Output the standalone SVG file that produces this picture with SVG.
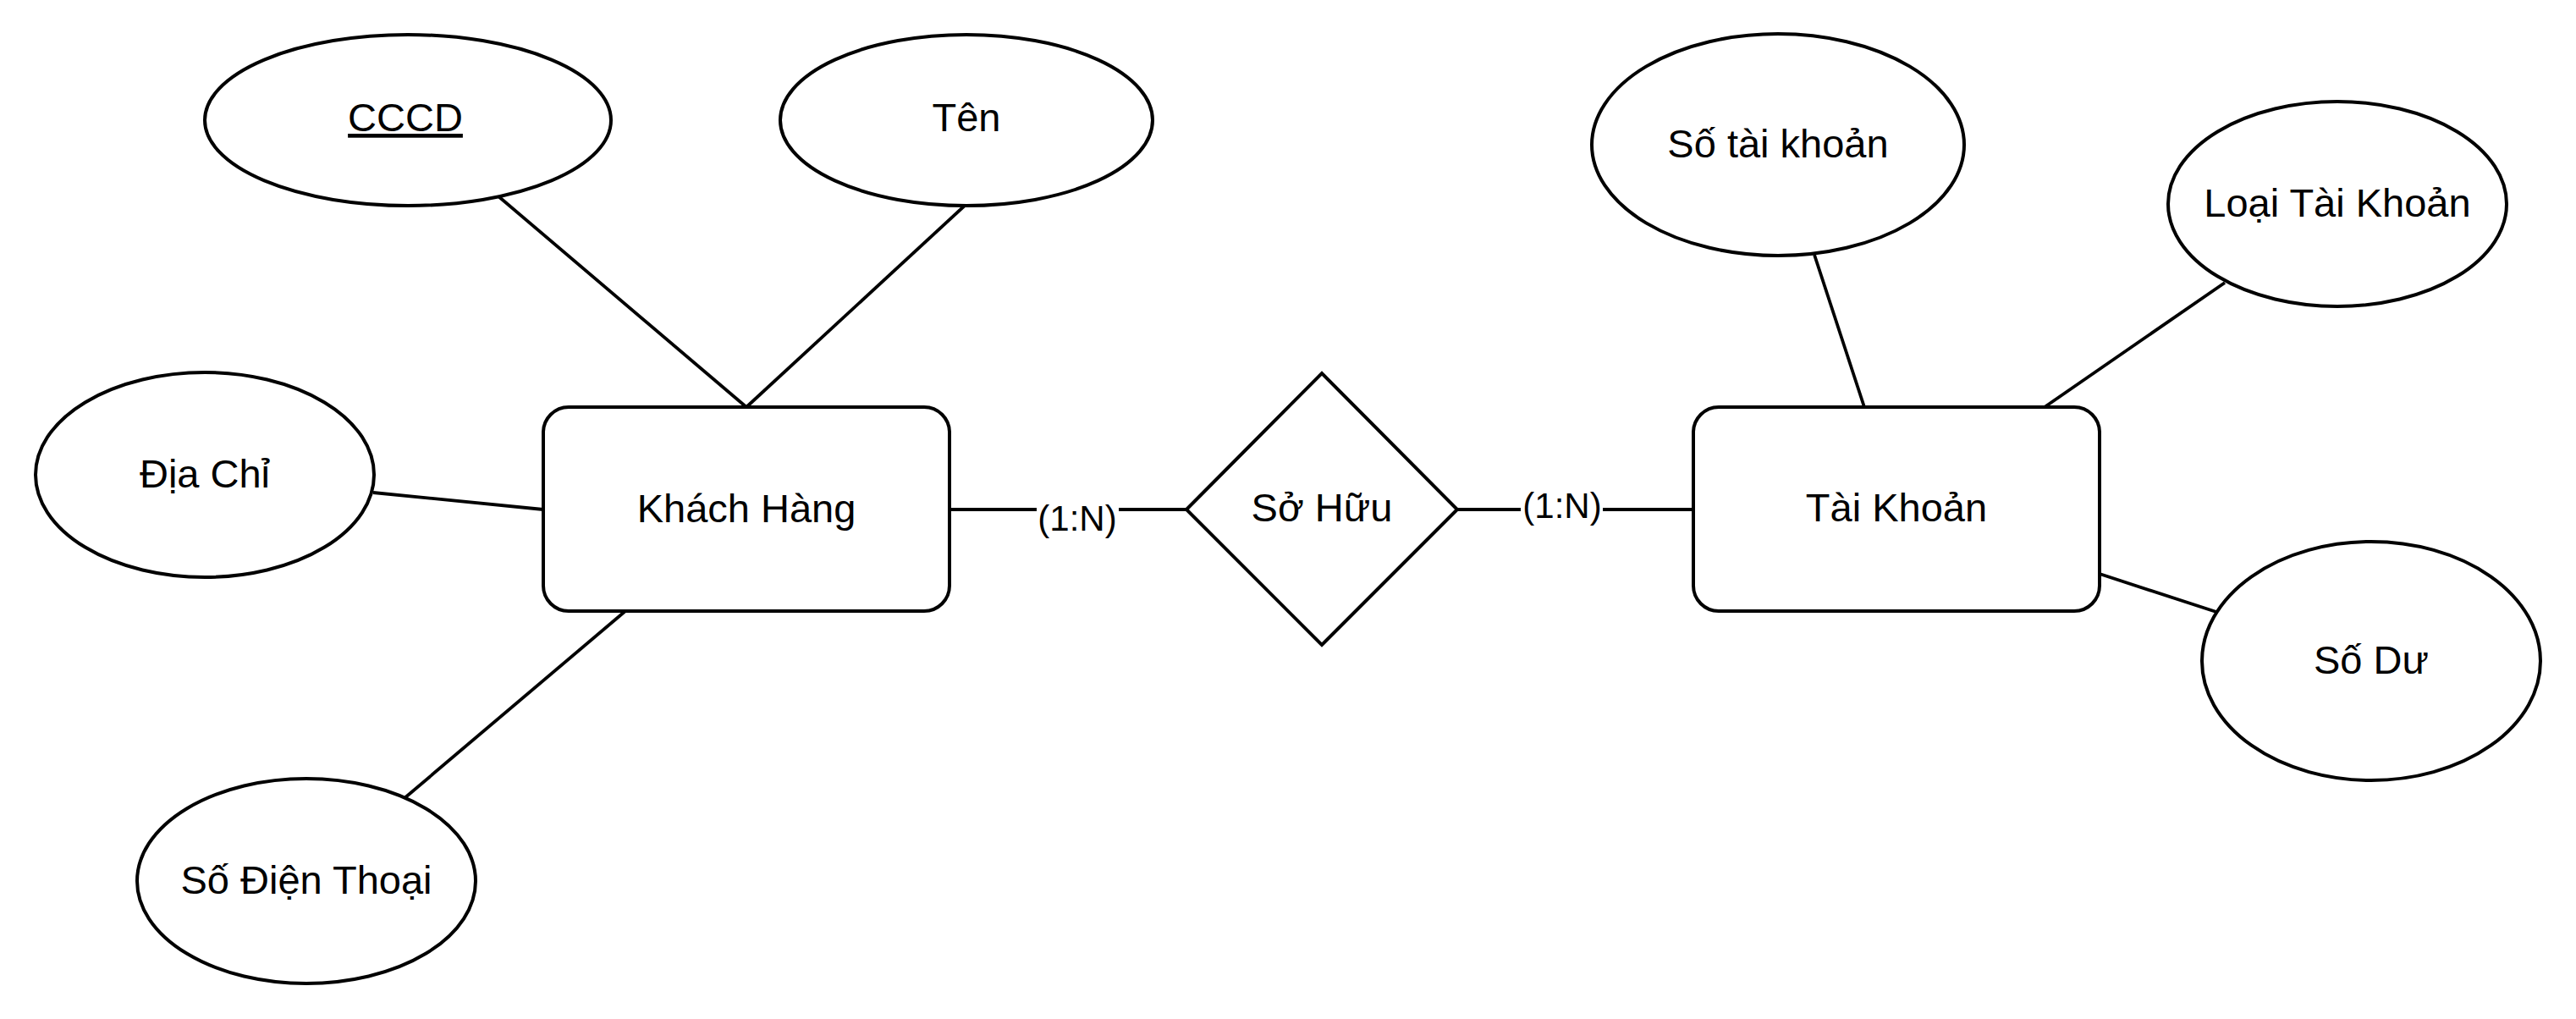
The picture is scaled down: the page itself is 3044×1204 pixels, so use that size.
<svg xmlns="http://www.w3.org/2000/svg" width="3044" height="1204" viewBox="0 0 3044 1204">
<style>
.s{fill:#fff;stroke:#000;stroke-width:4}
.t{font-family:"Liberation Sans",Arial,sans-serif;font-size:47px;fill:#000;text-anchor:middle}
.l{font-family:"Liberation Sans",Arial,sans-serif;font-size:42px;fill:#000;text-anchor:middle}
.c line{stroke:#000;stroke-width:3.8}
</style>
<rect width="3044" height="1204" fill="#fff"/>
<g class="c" id="connectors">
<line x1="589" y1="232" x2="882" y2="481"/>
<line x1="1141" y1="242" x2="882" y2="481"/>
<line x1="441" y1="582" x2="642" y2="602"/>
<line x1="478" y1="943" x2="739" y2="722"/>
<line x1="1122" y1="602" x2="1402" y2="602"/>
<line x1="1722" y1="602" x2="2001" y2="602"/>
<line x1="2144" y1="301" x2="2203" y2="481"/>
<line x1="2629" y1="334" x2="2416" y2="481"/>
<line x1="2481" y1="678" x2="2619" y2="723"/>
<rect x="1225" y="590" width="97" height="20" fill="#fff"/>
<text class="l" x="1273" y="627">(1:N)</text>
<rect x="1797" y="590" width="97" height="20" fill="#fff"/>
<text class="l" x="1846" y="612">(1:N)</text>
</g>
<g id="khach-hang">
<rect class="s" x="642" y="481" width="480" height="241" rx="30"/>
<text class="t" x="882" y="617">Khách Hàng</text>
</g>
<g id="cccd">
<ellipse class="s" cx="482" cy="142" rx="240" ry="101"/>
<text class="t" x="479" y="155" text-decoration="underline">CCCD</text>
</g>
<g id="ten">
<ellipse class="s" cx="1142" cy="142" rx="220" ry="101"/>
<text class="t" x="1142" y="155">Tên</text>
</g>
<g id="dia-chi">
<ellipse class="s" cx="242" cy="561" rx="200" ry="121"/>
<text class="t" x="242" y="576">Địa Chỉ</text>
</g>
<g id="so-dien-thoai">
<ellipse class="s" cx="362" cy="1041" rx="200" ry="121"/>
<text class="t" x="362" y="1056">Số Điện Thoại</text>
</g>
<g id="so-huu">
<polygon class="s" points="1402,602 1562,441 1722,602 1562,762"/>
<text class="t" x="1562" y="616">Sở Hữu</text>
</g>
<g id="tai-khoan">
<rect class="s" x="2001" y="481" width="480" height="241" rx="30"/>
<text class="t" x="2241" y="616">Tài Khoản</text>
</g>
<g id="so-tai-khoan">
<ellipse class="s" cx="2101" cy="171" rx="220" ry="131"/>
<text class="t" x="2101" y="186">Số tài khoản</text>
</g>
<g id="loai-tai-khoan">
<ellipse class="s" cx="2762" cy="241" rx="200" ry="121"/>
<text class="t" x="2762" y="256">Loại Tài Khoản</text>
</g>
<g id="so-du">
<ellipse class="s" cx="2802" cy="781" rx="200" ry="141"/>
<text class="t" x="2802" y="796">Số Dư</text>
</g>
</svg>
